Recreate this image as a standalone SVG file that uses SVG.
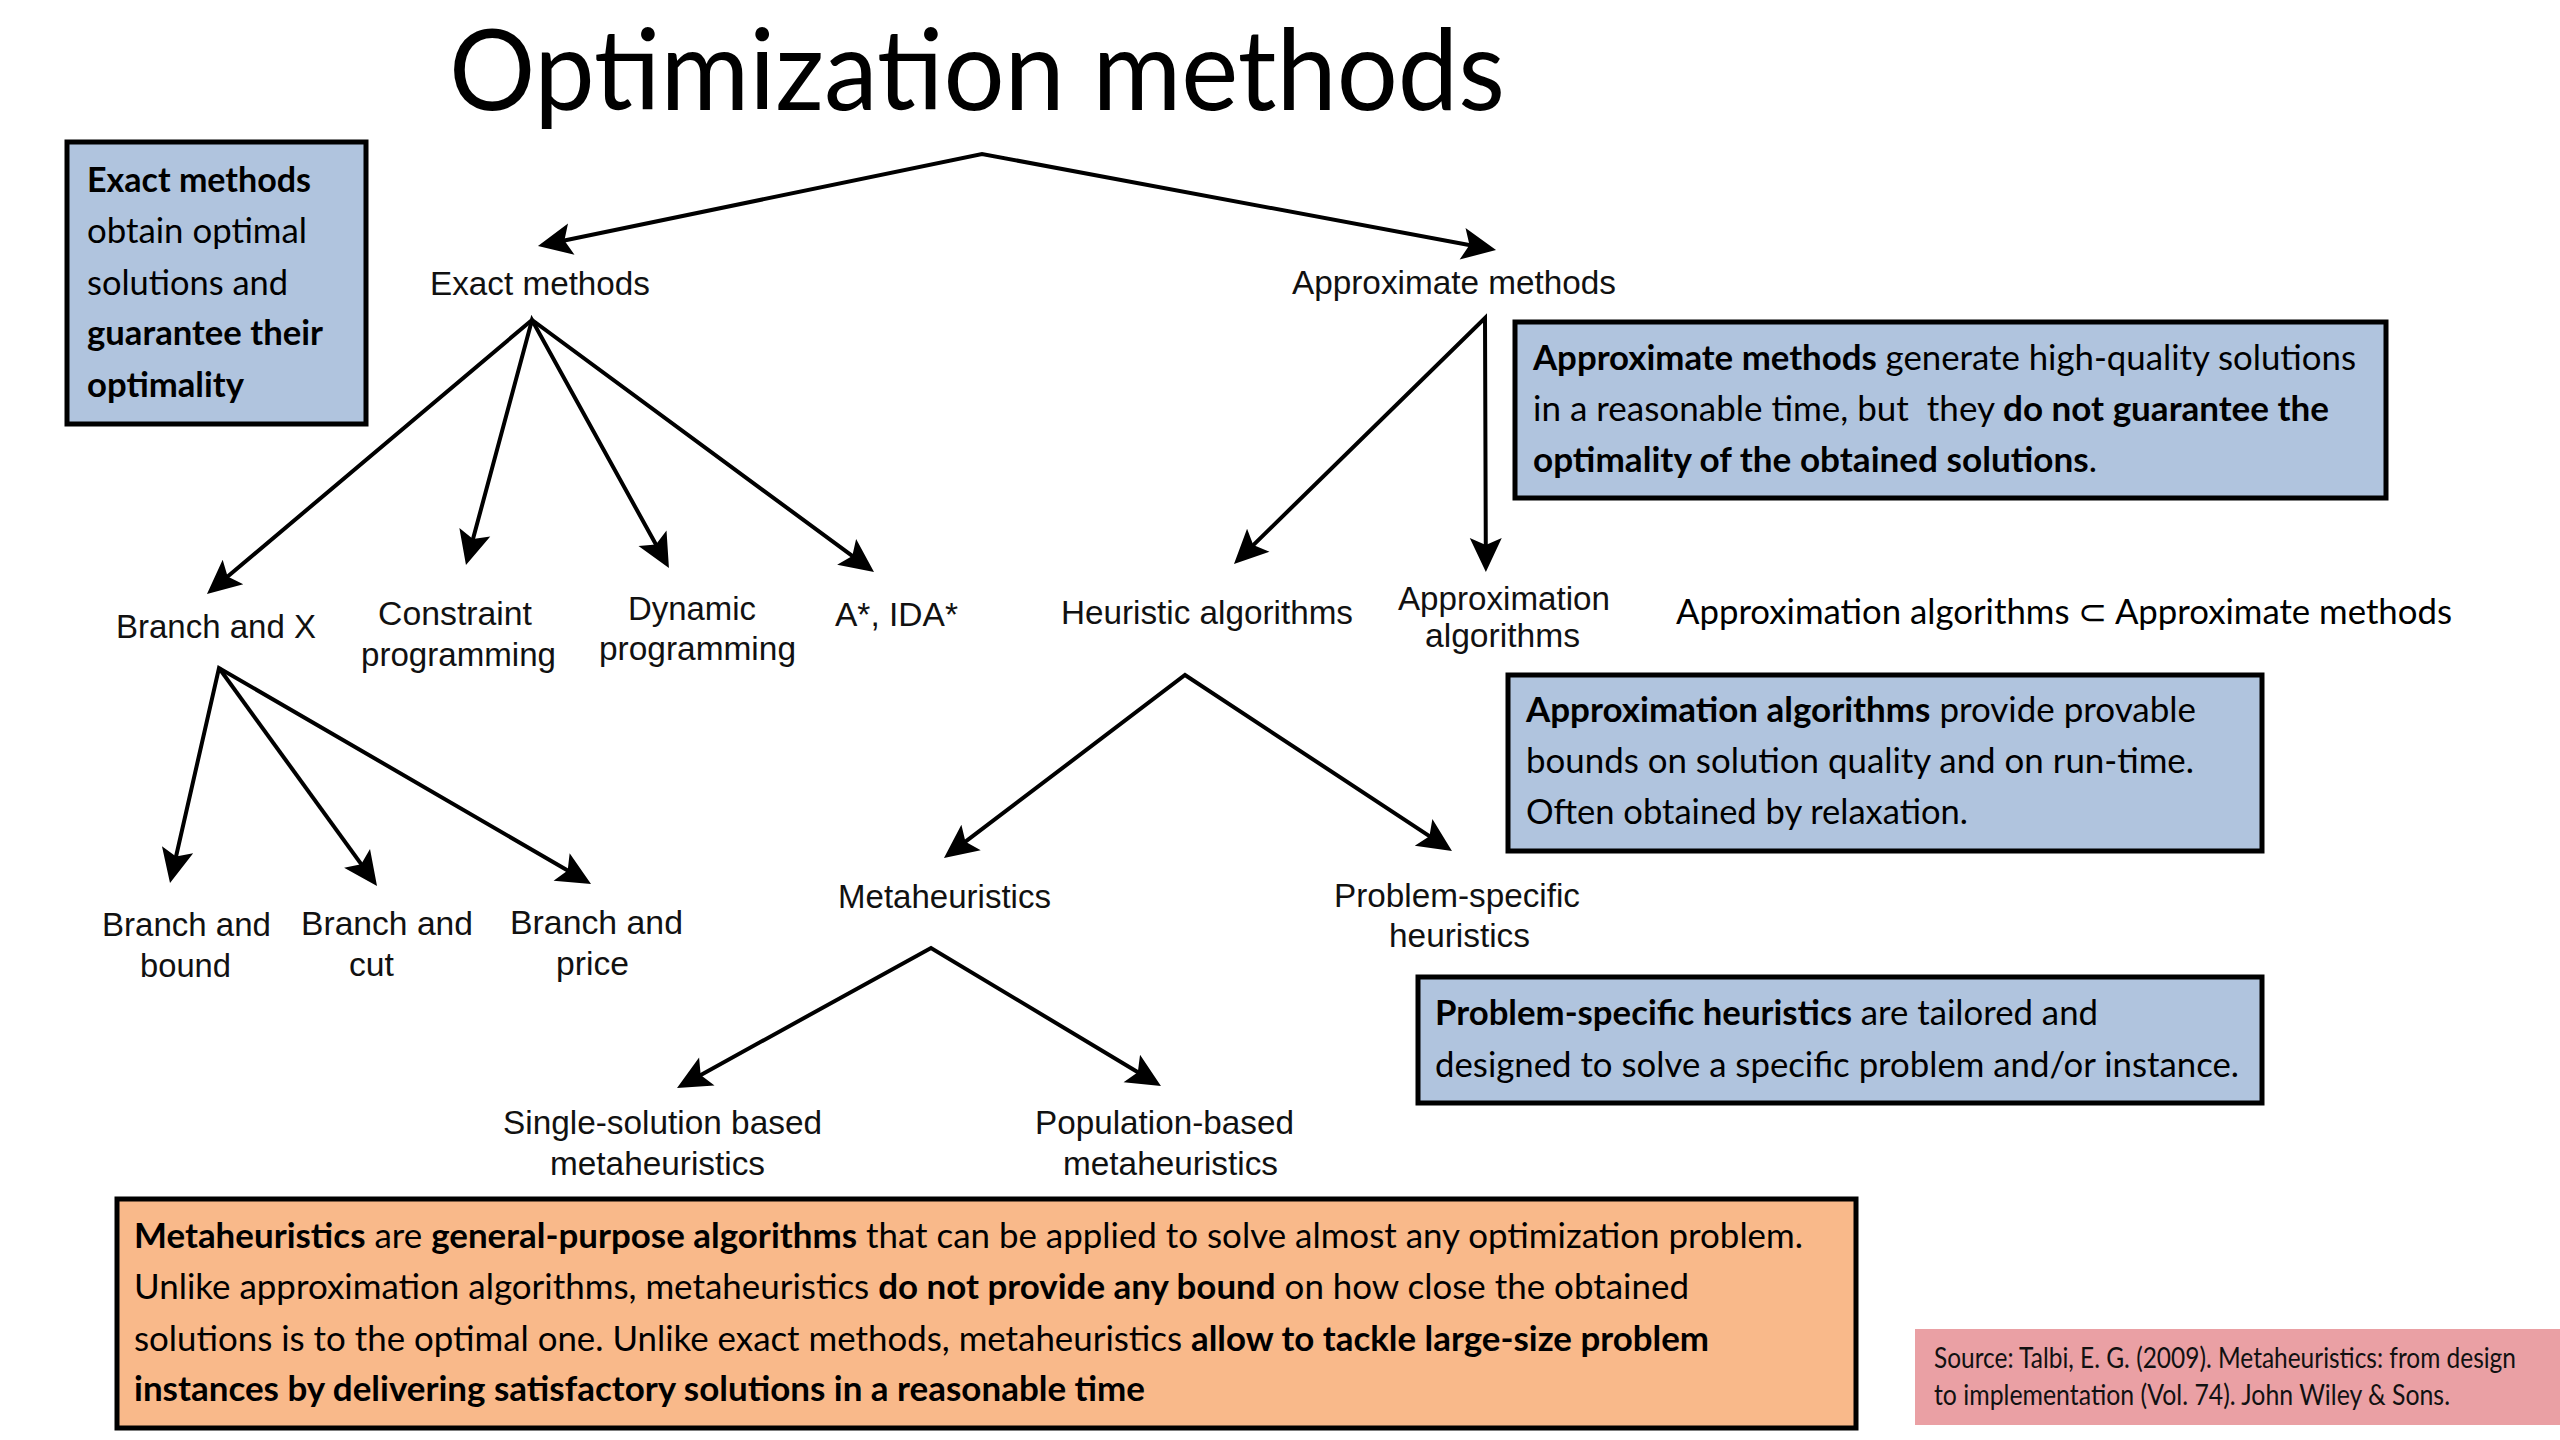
<svg xmlns="http://www.w3.org/2000/svg" width="2560" height="1440" viewBox="0 0 2560 1440">
<defs>
<style>
.lbl{font-family:"Liberation Sans",Arial,sans-serif;font-size:33px;fill:#111;}
.box{font-family:Lato,"Open Sans",sans-serif;font-size:35px;fill:#000;}
.b{font-weight:bold;}
.title{font-family:Lato,"Open Sans",sans-serif;font-size:112px;fill:#000;}
.src{font-family:Lato,"Open Sans",sans-serif;font-size:29px;fill:#111;}
.blue{fill:#b0c4de;stroke:#000;stroke-width:5;}
.orange{fill:#f9b98a;stroke:#000;stroke-width:5;}
.edge{fill:none;stroke:#000;stroke-width:4;stroke-linejoin:miter;}
</style>
<marker id="ah" markerUnits="userSpaceOnUse" viewBox="-20 -25 50 50" markerWidth="50" markerHeight="50" refX="0" refY="0" orient="auto-start-reverse" overflow="visible">
<path d="M22,0 L-12,-16 L-5,0 L-12,16 Z" fill="#000"/>
</marker>
</defs>
<rect width="2560" height="1440" fill="#fff"/>

<text class="title" x="449" y="110" textLength="1056" lengthAdjust="spacingAndGlyphs">Optimization methods</text>

<g id="connectors">
<path class="edge" d="M559.5,241.5 L982,154 L1474.4,246" marker-start="url(#ah)" marker-end="url(#ah)"/>
<path class="edge" d="M223.8,579.8 L532,320 L856.3,558.9" marker-start="url(#ah)" marker-end="url(#ah)"/>
<path class="edge" d="M471.7,543.8 L532,320 L658.3,548.8" marker-start="url(#ah)" marker-end="url(#ah)"/>
<path class="edge" d="M1249.7,548.6 L1485,318 L1485.8,550" marker-start="url(#ah)" marker-end="url(#ah)"/>
<path class="edge" d="M174.9,861.5 L219,668 L572,873" marker-start="url(#ah)" marker-end="url(#ah)"/>
<path class="edge" d="M219,668 L364.1,868.2" marker-end="url(#ah)"/>
<path class="edge" d="M961.5,844.7 L1185,675 L1433.6,838.9" marker-start="url(#ah)" marker-end="url(#ah)"/>
<path class="edge" d="M696.3,1077.4 L931,948 L1142.1,1074.7" marker-start="url(#ah)" marker-end="url(#ah)"/>
</g>

<g id="node-exact-methods"><text class="lbl" x="430" y="295" textLength="220" lengthAdjust="spacingAndGlyphs">Exact methods</text></g>
<g id="node-approximate-methods"><text class="lbl" x="1292" y="294" textLength="324" lengthAdjust="spacingAndGlyphs">Approximate methods</text></g>
<g id="node-branch-and-x"><text class="lbl" x="116" y="638" textLength="200" lengthAdjust="spacingAndGlyphs">Branch and X</text></g>
<g id="node-constraint-programming">
<text class="lbl" x="378" y="625" textLength="154" lengthAdjust="spacingAndGlyphs">Constraint</text>
<text class="lbl" x="361" y="666" textLength="195" lengthAdjust="spacingAndGlyphs">programming</text>
</g>
<g id="node-dynamic-programming">
<text class="lbl" x="628" y="620" textLength="128" lengthAdjust="spacingAndGlyphs">Dynamic</text>
<text class="lbl" x="599" y="660" textLength="197" lengthAdjust="spacingAndGlyphs">programming</text>
</g>
<g id="node-astar"><text class="lbl" x="835" y="626" textLength="123" lengthAdjust="spacingAndGlyphs">A*, IDA*</text></g>
<g id="node-heuristic-algorithms"><text class="lbl" x="1061" y="624" textLength="292" lengthAdjust="spacingAndGlyphs">Heuristic algorithms</text></g>
<g id="node-approximation-algorithms">
<text class="lbl" x="1398" y="610" textLength="212" lengthAdjust="spacingAndGlyphs">Approximation</text>
<text class="lbl" x="1425" y="647" textLength="155" lengthAdjust="spacingAndGlyphs">algorithms</text>
</g>
<g id="node-branch-and-bound">
<text class="lbl" x="102" y="936" textLength="169" lengthAdjust="spacingAndGlyphs">Branch and</text>
<text class="lbl" x="140" y="977" textLength="91" lengthAdjust="spacingAndGlyphs">bound</text>
</g>
<g id="node-branch-and-cut">
<text class="lbl" x="301" y="935" textLength="172" lengthAdjust="spacingAndGlyphs">Branch and</text>
<text class="lbl" x="349" y="976" textLength="45" lengthAdjust="spacingAndGlyphs">cut</text>
</g>
<g id="node-branch-and-price">
<text class="lbl" x="510" y="934" textLength="173" lengthAdjust="spacingAndGlyphs">Branch and</text>
<text class="lbl" x="556" y="975" textLength="73" lengthAdjust="spacingAndGlyphs">price</text>
</g>
<g id="node-metaheuristics"><text class="lbl" x="838" y="908" textLength="213" lengthAdjust="spacingAndGlyphs">Metaheuristics</text></g>
<g id="node-problem-specific-heuristics">
<text class="lbl" x="1334" y="907" textLength="246" lengthAdjust="spacingAndGlyphs">Problem-specific</text>
<text class="lbl" x="1389" y="947" textLength="141" lengthAdjust="spacingAndGlyphs">heuristics</text>
</g>
<g id="node-single-solution">
<text class="lbl" x="503" y="1134" textLength="319" lengthAdjust="spacingAndGlyphs">Single-solution based</text>
<text class="lbl" x="550" y="1175" textLength="215" lengthAdjust="spacingAndGlyphs">metaheuristics</text>
</g>
<g id="node-population-based">
<text class="lbl" x="1035" y="1134" textLength="259" lengthAdjust="spacingAndGlyphs">Population-based</text>
<text class="lbl" x="1063" y="1175" textLength="215" lengthAdjust="spacingAndGlyphs">metaheuristics</text>
</g>

<g id="note-subset"><text class="box" x="1676" y="624" textLength="776" lengthAdjust="spacingAndGlyphs">Approximation algorithms ⊂ Approximate methods</text></g>

<g id="box-exact">
<rect class="blue" x="67" y="142" width="299" height="282"/>
<text class="box b" x="87" y="192" textLength="224" lengthAdjust="spacingAndGlyphs">Exact methods</text>
<text class="box" x="87" y="243" textLength="220" lengthAdjust="spacingAndGlyphs">obtain optimal</text>
<text class="box" x="87" y="295" textLength="201" lengthAdjust="spacingAndGlyphs">solutions and</text>
<text class="box b" x="87" y="345" textLength="236" lengthAdjust="spacingAndGlyphs">guarantee their</text>
<text class="box b" x="87" y="397" textLength="157" lengthAdjust="spacingAndGlyphs">optimality</text>
</g>

<g id="box-approximate">
<rect class="blue" x="1515" y="322" width="871" height="176"/>
<text class="box" x="1533" y="370" textLength="823" lengthAdjust="spacingAndGlyphs"><tspan class="b">Approximate methods</tspan> generate high-quality solutions</text>
<text class="box" x="1533" y="421" textLength="796" lengthAdjust="spacingAndGlyphs">in a reasonable time, but&#160; they <tspan class="b">do not guarantee the</tspan></text>
<text class="box" x="1533" y="472" textLength="564" lengthAdjust="spacingAndGlyphs"><tspan class="b">optimality of the obtained solutions</tspan>.</text>
</g>

<g id="box-approximation">
<rect class="blue" x="1508" y="675" width="754" height="176"/>
<text class="box" x="1526" y="722" textLength="670" lengthAdjust="spacingAndGlyphs"><tspan class="b">Approximation algorithms</tspan> provide provable</text>
<text class="box" x="1526" y="773" textLength="668" lengthAdjust="spacingAndGlyphs">bounds on solution quality and on run-time.</text>
<text class="box" x="1526" y="824" textLength="442" lengthAdjust="spacingAndGlyphs">Often obtained by relaxation.</text>
</g>

<g id="box-problem-specific">
<rect class="blue" x="1418" y="977" width="844" height="126"/>
<text class="box" x="1435" y="1025" textLength="663" lengthAdjust="spacingAndGlyphs"><tspan class="b">Problem-specific heuristics</tspan> are tailored and</text>
<text class="box" x="1435" y="1077" textLength="804" lengthAdjust="spacingAndGlyphs">designed to solve a specific problem and/or instance.</text>
</g>

<g id="box-metaheuristics">
<rect class="orange" x="117" y="1199" width="1739" height="229"/>
<text class="box" x="134" y="1248" textLength="1669" lengthAdjust="spacingAndGlyphs"><tspan class="b">Metaheuristics</tspan> are <tspan class="b">general-purpose algorithms</tspan> that can be applied to solve almost any optimization problem.</text>
<text class="box" x="134" y="1299" textLength="1555" lengthAdjust="spacingAndGlyphs">Unlike approximation algorithms, metaheuristics <tspan class="b">do not provide any bound</tspan> on how close the obtained</text>
<text class="box" x="134" y="1351" textLength="1575" lengthAdjust="spacingAndGlyphs">solutions is to the optimal one. Unlike exact methods, metaheuristics <tspan class="b">allow to tackle large-size problem</tspan></text>
<text class="box b" x="134" y="1401" textLength="1011" lengthAdjust="spacingAndGlyphs">instances by delivering satisfactory solutions in a reasonable time</text>
</g>

<g id="box-source">
<rect x="1915" y="1329" width="645" height="96" fill="#eaa0a4"/>
<text class="src" x="1934" y="1368" textLength="582" lengthAdjust="spacingAndGlyphs">Source: Talbi, E. G. (2009). Metaheuristics: from design</text>
<text class="src" x="1934" y="1405" textLength="516" lengthAdjust="spacingAndGlyphs">to implementation (Vol. 74). John Wiley &amp; Sons.</text>
</g>
</svg>
